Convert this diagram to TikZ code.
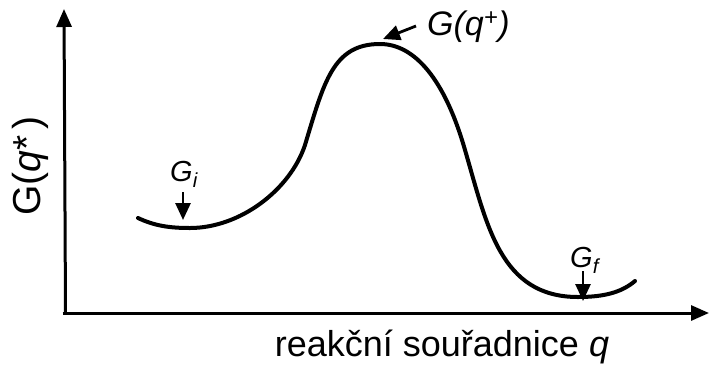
\documentclass[tikz,border=0pt]{standalone}
\usepackage{fontspec}
\setmainfont{Liberation Sans}
\usetikzlibrary{arrows.meta}

\begin{document}
\begin{tikzpicture}[x=1pt, y=-1pt,
    axis/.style={line width=3pt, -{Triangle[length=18pt, width=15pt]}},
    pointer/.style={line width=2.8pt, -{Triangle[length=17pt, width=15pt]}},
    lbl/.style={inner sep=0pt}]
    \useasboundingbox (0,0) rectangle (709,365);

    % axes
    \coordinate (O) at (64,313);
    \coordinate (ytop) at (64,9);
    \coordinate (xend) at (709,313);
    \draw[axis] ([xshift=1.5pt]O) -- (ytop);
    \draw[axis] ([xshift=-1.5pt]O) -- (xend);

    \node[lbl, anchor=base, font=\fontsize{36}{40}\selectfont] (xlabel) at (442,356) {reakční souřadnice \textit{q}};
    \node[lbl, rotate=90, font=\fontsize{39}{42}\selectfont] (ylabel) at (30,166) {G(\textit{q}*\,)};

    % free energy profile
    \draw[line width=4pt, line cap=round]
        (138,218) .. controls (155,226) and (170,228) .. (190,228)
        .. controls (240,228) and (290,190) .. (305,145)
        .. controls (324,82) and (333,44) .. (380,44)
        .. controls (415,44) and (445,80) .. (465,150)
        .. controls (487,225) and (500,297) .. (578,297)
        .. controls (605,297) and (622,292) .. (635,281);

    % labels with pointers
    \node[lbl, anchor=base west, font=\fontsize{34}{38}\selectfont\itshape] (Gts) at (427,35) {G(q\textsuperscript{+})};
    \coordinate (ts-tail) at (416,26);
    \coordinate (ts-tip) at (383,39);
    \draw[pointer] (ts-tail) -- (ts-tip);

    \node[lbl, anchor=base west, font=\fontsize{29}{32}\selectfont\itshape] (Gi) at (170,181) {G\textsubscript{i}};
    \coordinate (gi-tail) at (183,192);
    \coordinate (gi-tip) at (183,220);
    \draw[pointer] (gi-tail) -- (gi-tip);

    \node[lbl, anchor=base west, font=\fontsize{29}{32}\selectfont\itshape] (Gf) at (570,267) {G\textsubscript{f}};
    \coordinate (gf-tail) at (583,271);
    \coordinate (gf-tip) at (583,301);
    \draw[pointer] (gf-tail) -- (gf-tip);
\end{tikzpicture}
\end{document}
